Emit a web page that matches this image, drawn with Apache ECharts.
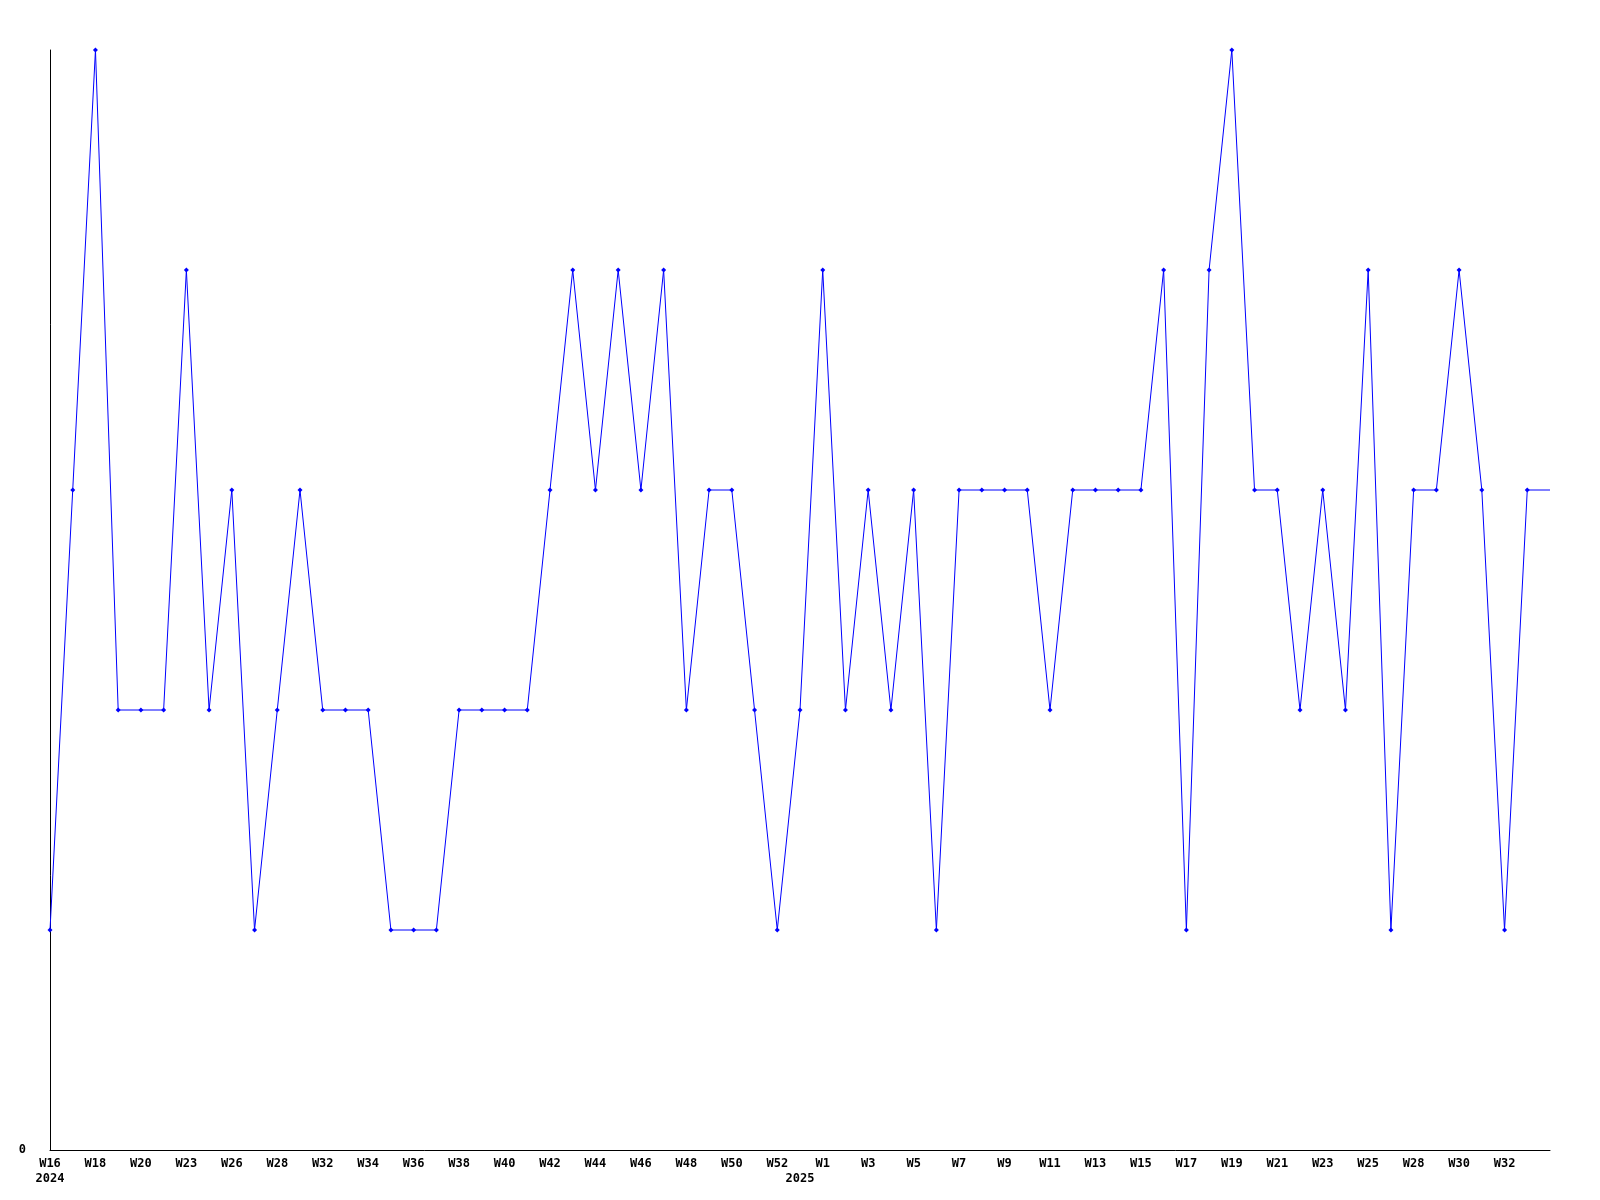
<!DOCTYPE html>
<html>
<head>
<meta charset="utf-8">
<script src="https://cdn.jsdelivr.net/npm/echarts@6/dist/echarts.min.js"></script>
<style>html,body{margin:0;padding:0;background:#fff}#c{width:1600px;height:1200px}</style>
</head>
<body>
<div id="c"></div>
<script>
const weeks = ['W16','W17','W18','W19','W20','W22','W23','W25','W26','W27','W28','W30','W32','W33','W34','W35','W36','W37','W38','W39','W40','W41','W42','W43','W44','W45','W46','W47','W48','W49','W50','W51','W52','W0','W1','W2','W3','W4','W5','W6','W7','W8','W9','W10','W11','W12','W13','W14','W15','W16','W17','W18','W19','W20','W21','W22','W23','W24','W25','W27','W28','W29','W30','W31','W32','W33','W34'];
const yearStarts = {0: '2024', 33: '2025'};
const values = [1,3,5,2,2,2,4,2,3,1,2,3,2,2,2,1,1,1,2,2,2,2,3,4,3,4,3,4,2,3,3,2,1,2,4,2,3,2,3,1,3,3,3,3,2,3,3,3,3,4,1,4,5,3,3,2,3,2,4,1,3,3,4,3,1,3,3];
const yTicks = [0];

const lastIdx = values.length - 1;
const seriesData = values.map((v, i) => i === lastIdx ? {value: v, symbol: 'none'} : v);
const font = {fontFamily: 'DejaVu Sans Mono', fontWeight: 'bold', fontSize: 12, color: '#000'};

const chart = echarts.init(document.getElementById('c'), null, {renderer: 'canvas'});
chart.setOption({
  animation: false,
  backgroundColor: '#fff',
  grid: {left: 50, right: 50, top: 50, bottom: 50, containLabel: false},
  xAxis: {
    type: 'category',
    data: weeks,
    boundaryGap: false,
    axisLine: {show: true, lineStyle: {color: '#000', width: 1}},
    axisTick: {show: false},
    splitLine: {show: false},
    axisLabel: Object.assign({}, font, {
      margin: 6,
      lineHeight: 15,
      interval: function (i) { return (i % 2 === 0 && i < lastIdx) || yearStarts[i] !== undefined; },
      formatter: function (v, i) {
        const top = (i % 2 === 0) ? v : '';
        return yearStarts[i] !== undefined ? top + '\n' + yearStarts[i] : top;
      }
    })
  },
  yAxis: {
    type: 'value',
    min: 0,
    max: 5,
    interval: 1,
    axisLine: {show: true, lineStyle: {color: '#000', width: 1}},
    axisTick: {show: false},
    splitLine: {show: false},
    axisLabel: Object.assign({}, font, {
      margin: 24,
      formatter: function (v) { return yTicks.indexOf(v) >= 0 ? String(v) : ''; }
    })
  },
  series: [{
    type: 'line',
    data: seriesData,
    symbol: 'diamond',
    symbolSize: 5,
    showAllSymbol: true,
    clip: false,
    lineStyle: {color: '#0000ff', width: 1},
    itemStyle: {color: '#0000ff'}
  }]
});
</script>
</body>
</html>
